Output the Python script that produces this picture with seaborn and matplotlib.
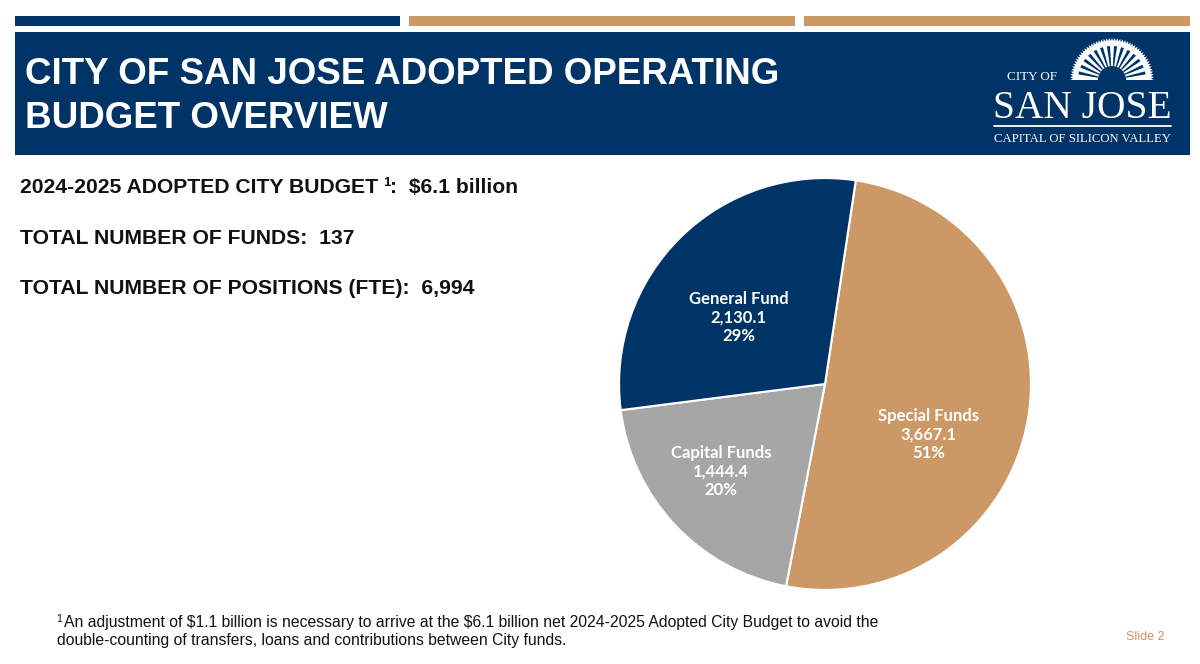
import numpy as np
import pandas as pd
import seaborn as sns
import matplotlib.pyplot as plt
from matplotlib.patches import Rectangle, Wedge, Polygon

# ---- data (millions of $) ----
FUNDS = ["Special Funds", "Capital Funds", "General Fund"]
AMOUNTS = [3667.1, 1444.4, 2130.1]
COLORS = ["#CC9966", "#A6A6A6", "#003366"]

TITLE_LINES = ["CITY OF SAN JOSE ADOPTED OPERATING", "BUDGET OVERVIEW"]
STAT_LINES = [
    ("2024-2025 ADOPTED CITY BUDGET", "1", ":  $6.1 billion"),
    ("TOTAL NUMBER OF FUNDS:  137", "", ""),
    ("TOTAL NUMBER OF POSITIONS (FTE):  6,994", "", ""),
]
FOOTNOTE = ["An adjustment of $1.1 billion is necessary to arrive at the $6.1 billion net 2024-2025 Adopted City Budget to avoid the",
            "double-counting of transfers, loans and contributions between City funds."]

NAVY = "#003366"
TAN = "#CC9966"

# label placement tweaks per slice (radius fraction, angle nudge in deg)
LABEL_R = [0.56, 0.66, 0.53]
LABEL_NUDGE = [-16, -3, 8]

sns.set_theme(style="white")
plt.rcParams["font.family"] = ["Liberation Sans", "DejaVu Sans"]

fig = plt.figure(figsize=(12, 6.64), dpi=100)
fig.patch.set_facecolor("white")
rend = fig.canvas.get_renderer()

# overlay axes in pixel coords
ov = fig.add_axes([0, 0, 1, 1], zorder=0)
ov.set_xlim(0, 1200)
ov.set_ylim(664, 0)
ov.axis("off")


def fit_width(t, width):
    """rescale a text so its rendered width matches width (px)."""
    w = t.get_window_extent(rend).width
    t.set_fontsize(t.get_fontsize() * width / w)
    return t


# top accent bars + header box
ov.add_patch(Rectangle((15, 16), 385, 9.5, color=NAVY, lw=0))
ov.add_patch(Rectangle((409, 16), 386, 9.5, color=TAN, lw=0))
ov.add_patch(Rectangle((804, 16), 386, 9.5, color=TAN, lw=0))
ov.add_patch(Rectangle((15, 32), 1175, 123, color=NAVY, lw=0))

for i, line in enumerate(TITLE_LINES):
    ov.text(25, 84 + i * 44, line, color="white", fontsize=26.5, fontweight="bold",
            va="baseline", ha="left", parse_math=False)

# logo
serif = ["Liberation Serif", "DejaVu Serif"]
fit_width(ov.text(1007, 80, "CITY OF", color="white", fontsize=9, family=serif,
                  va="baseline"), 50)
fit_width(ov.text(993, 118, "SAN JOSE", color="white", fontsize=28, family=serif,
                  va="baseline"), 178)
fit_width(ov.text(994, 142, "CAPITAL OF SILICON VALLEY", color="white", fontsize=9,
                  family=serif, va="baseline"), 177)
ov.plot([994, 1171], [126, 126], color="white", lw=1.3)
cx, cy, R = 1112, 80, 42
n_teeth = 48
angs = np.linspace(np.pi, 2 * np.pi, 2 * n_teeth + 1)
rr = np.where(np.arange(len(angs)) % 2 == 0, R, R - 3)
pts = np.c_[cx + rr * np.cos(angs), cy + rr * np.sin(angs)]
pts = np.vstack([pts, [cx, cy]])
ov.add_patch(Polygon(pts, closed=True, fc="white", ec="none"))
for a in np.linspace(192, 348, 14):
    ov.add_patch(Wedge((cx, cy), R - 8, a - 2.6, a + 2.6, width=R - 22,
                       fc=NAVY, ec="none"))
ov.add_patch(Wedge((cx, cy), 14, 180, 360, fc=NAVY, ec="none"))
ov.add_patch(Rectangle((1060, 80), 110, 4, color=NAVY, lw=0))

# stats block
for i, (main, sup, tail) in enumerate(STAT_LINES):
    y = 193 + i * 50.5
    t = ov.text(20, y, main, fontsize=15.2, fontweight="bold", va="baseline",
                color="#111111", parse_math=False)
    x = 20 + t.get_window_extent(rend).width
    if sup:
        t2 = ov.text(x + 5, y - 7, sup, fontsize=9.5, fontweight="bold", va="baseline",
                     color="#111111")
        x = x + 5 + t2.get_window_extent(rend).width
        ov.text(x, y, tail, fontsize=15.2, fontweight="bold", va="baseline",
                color="#111111", parse_math=False)

# footnote
ov.text(56, 622, "1", fontsize=7.5, va="baseline", color="#111111")
fn1 = fit_width(ov.text(64, 627, FOOTNOTE[0], fontsize=10, va="baseline", color="#111111",
                        parse_math=False), 820)
ov.text(57, 645, FOOTNOTE[1], fontsize=fn1.get_fontsize(), va="baseline", color="#111111",
        parse_math=False)
ov.text(1145, 640, "Slide 2", fontsize=9, va="baseline", ha="center", color="#C8956A")

# ---- pie ----
df = pd.DataFrame({"fund": FUNDS, "amount": AMOUNTS, "color": COLORS})
df["pct"] = df["amount"] / df["amount"].sum() * 100

pax = fig.add_axes([617 / 1200, (664 - 592) / 664, 416 / 1200, 416 / 664], zorder=1)
wedges, _ = pax.pie(df["amount"], colors=df["color"], startangle=81.4, counterclock=False,
                    radius=1, wedgeprops=dict(edgecolor="white", linewidth=1.5))
pax.set_xlim(-1.01, 1.01)
pax.set_ylim(-1.01, 1.01)
pax.set_aspect("equal")
pax.axis("off")

lab_font = ["Lato", "DejaVu Sans"]
for w, (_, row), lr, nd in zip(wedges, df.iterrows(), LABEL_R, LABEL_NUDGE):
    mid = np.deg2rad((w.theta1 + w.theta2) / 2 + nd)
    txt = f"{row['fund']}\n{row['amount']:,.1f}\n{row['pct']:.0f}%"
    pax.text(lr * np.cos(mid), lr * np.sin(mid), txt, ha="center", va="center",
             color="white", fontsize=12, fontweight="bold", family=lab_font,
             linespacing=1.2)

fig.savefig("out.png", dpi=100)
